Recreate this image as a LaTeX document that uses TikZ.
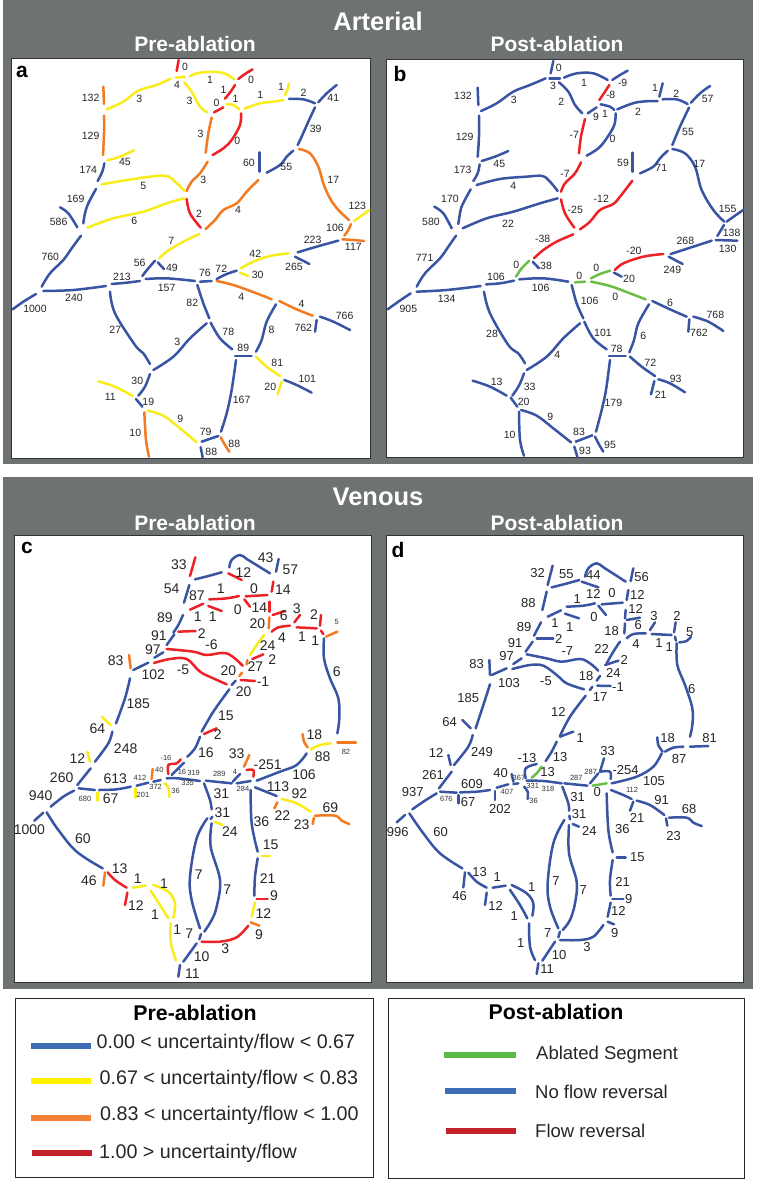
\documentclass[tikz,border=0pt]{standalone}
\usepackage{fontspec}
\setmainfont{Liberation Sans}
\definecolor{frameg}{HTML}{6E7273}
\definecolor{cB}{HTML}{3A54A4}
\definecolor{cY}{HTML}{F8EC1A}
\definecolor{cO}{HTML}{F47A22}
\definecolor{cR}{HTML}{EC2227}
\definecolor{cG}{HTML}{6ABD45}
\definecolor{lB}{HTML}{3F6DB5}
\definecolor{lY}{HTML}{FFF200}
\definecolor{lO}{HTML}{F58233}
\definecolor{lR}{HTML}{C4202A}
\definecolor{lG}{HTML}{5BBB47}
\newcounter{labn}
\newcommand\sg[2]{\draw[seg,#1] plot[smooth,tension=0.6] coordinates {#2};}
\newcommand\lb[2]{\stepcounter{labn}\node[lbl] (n\thelabn) at (#1) {#2};}
\newcommand\ls[2]{\stepcounter{labn}\node[lbs] (n\thelabn) at (#1) {#2};}
\tikzset{
 seg/.style={line width=2.5pt,line cap=round,line join=round},
 zz/.style 2 args={x=0.33333pt,y=-0.33333pt,shift={(#1pt,-#2pt)}},
 lbl/.style={font=\fontsize{10.5}{12}\selectfont,inner sep=0pt,text=black!85},
 lbs/.style={font=\fontsize{7.5}{8}\selectfont,inner sep=0pt,text=black!80},
 frameb/.style={fill=frameg,draw=none},
 panelb/.style={fill=white,draw=black!80,line width=0.8pt},
 ttl/.style={font=\bfseries\fontsize{25.5}{28}\selectfont,text=white,inner sep=0pt},
 subttl/.style={font=\bfseries\fontsize{21}{24}\selectfont,text=white,inner sep=0pt},
 letter/.style={font=\bfseries\fontsize{21}{24}\selectfont,inner sep=0pt},
 legbox/.style={fill=white,draw=black!85,line width=0.9pt},
 legt/.style={font=\bfseries\fontsize{21.3}{24}\selectfont,inner sep=0pt},
 legx/.style={font=\fontsize{19.7}{22}\selectfont,inner sep=0pt,anchor=west,text=black!85},
 legy/.style={font=\fontsize{18.5}{22}\selectfont,inner sep=0pt,anchor=west,text=black!85},
 legl/.style={line width=6pt},
}
\begin{document}
\begin{tikzpicture}[x=1pt,y=-1pt]
\useasboundingbox (0,0) rectangle (756,1181);
\fill[white] (0,0) rectangle (756,1181);
\path[frameb] (3,0) rectangle (753,464);
\path[frameb] (3,477) rectangle (753,989);
\path[panelb] (11.7,58) rectangle (370.7,458);
\path[panelb] (386.7,59) rectangle (743,457);
\path[panelb] (14,535) rectangle (371,982);
\path[panelb] (386,535) rectangle (743,982);
\node[ttl] (tA) at (378,21) {Arterial};
\node[subttl] (tA1) at (195,44) {Pre-ablation};
\node[subttl] (tA2) at (557,44) {Post-ablation};
\node[ttl] (tV) at (378,497) {Venous};
\node[subttl] (tV1) at (195,523) {Pre-ablation};
\node[subttl] (tV2) at (557,523) {Post-ablation};
\node[letter] (pa) at (22,72) {a};
\node[letter] (pb) at (400,74) {b};
\node[letter] (pc) at (27,548) {c};
\node[letter] (pd) at (398,550) {d};
% ---------- panel a top
\begin{scope}[zz={0}{50}]
\sg{cR}{(536,30)(530,63)}
\sg{cY}{(527,83)(555,81)}
\sg{cY}{(320,178)(370,155)(415,122)(470,105)(512,86)}
\sg{cY}{(570,78)(600,68)(650,66)(680,73)(702,88)}
\sg{cR}{(715,87)(735,72)(758,58)}
\sg{cR}{(675,146)(692,125)(705,105)}
\sg{cY}{(553,97)(575,125)(600,170)(622,187)}
\sg{cR}{(642,187)(670,172)}
\sg{cY}{(680,163)(700,165)(718,178)}
\sg{cY}{(733,176)(780,160)(820,155)(850,150)}
\sg{cY}{(855,135)(862,120)(867,100)}
\sg{cB}{(867,147)(910,148)(945,160)}
\sg{cB}{(955,157)(980,130)(1010,105)}
\sg{cB}{(945,172)(925,215)(905,260)(893,285)}
\sg{cO}{(897,297)(930,310)(955,350)(970,400)(990,445)(1015,480)(1047,510)}
\sg{cY}{(1062,513)(1085,497)(1108,480)}
\sg{cO}{(1053,522)(1045,540)(1033,557)}
\sg{cO}{(1027,568)(1060,570)(1092,573)}
\sg{cB}{(893,607)(950,590)(1015,572)}
\sg{cO}{(310,110)(312,162)}
\sg{cO}{(312,197)(312,250)(309,315)}
\sg{cY}{(322,331)(360,320)(402,301)}
\sg{cB}{(313,340)(307,365)(293,393)}
\sg{cY}{(305,403)(370,392)(450,380)(500,378)(525,395)(553,422)}
\sg{cO}{(623,335)(600,370)(575,395)(560,423)}
\sg{cO}{(635,203)(625,250)(617,308)}
\sg{cR}{(723,190)(720,225)(695,270)(670,295)(638,315)}
\sg{cB}{(778,307)(778,365)}
\sg{cB}{(800,368)(840,345)(860,320)(880,302)}
\sg{cO}{(775,390)(740,425)(710,460)(670,480)(645,510)(617,537)}
\sg{cR}{(560,447)(570,490)(602,533)}
\sg{cY}{(553,445)(500,460)(430,485)(340,505)(262,533)}
\sg{cB}{(288,417)(265,460)(255,490)(250,520)}
\sg{cB}{(180,472)(205,490)(232,532)}
\sg{cY}{(598,552)(550,575)(500,605)(478,625)}
\lb{555,52}{0}\lb{531,105}{4}\lb{630,90}{1}\lb{753,90}{0}\lb{671,120}{1}\lb{569,152}{3}
\lb{650,160}{0}\lb{707,147}{1}\lb{781,135}{1}\lb{843,112}{1}\lb{911,127}{2}\lb{1000,143}{41}
\lb{272,143}{132}\lb{418,148}{3}\lb{602,252}{3}\lb{712,272}{0}\lb{947,238}{39}\lb{272,258}{129}
\lb{375,336}{45}\lb{747,340}{60}\lb{859,352}{55}\lb{265,360}{174}\lb{610,390}{3}\lb{1000,390}{17}
\lb{430,407}{5}\lb{227,447}{169}\lb{714,481}{4}\lb{597,490}{2}\lb{1072,468}{123}\lb{176,516}{586}
\lb{403,514}{6}\lb{1005,533}{106}\lb{514,574}{7}\lb{938,570}{223}\lb{1060,592}{117}\lb{766,612}{42}
\end{scope}
% ---------- panel a bottom
\begin{scope}[zz={0}{250}]
\sg{cB}{(243,-43)(215,-5)(190,30)(150,70)(125,110)}
\sg{cY}{(722,55)(760,35)(810,18)(865,10)}
\sg{cB}{(885,20)(905,30)(928,42)}
\sg{cY}{(720,68)(745,78)}
\sg{cB}{(650,87)(680,72)(710,62)}
\sg{cB}{(465,32)(445,55)(427,78)}
\sg{cB}{(473,37)(492,57)}
\sg{cB}{(335,102)(380,98)(420,93)}
\sg{cB}{(437,87)(500,85)(585,93)}
\sg{cB}{(600,95)(635,93)}
\sg{cO}{(650,93)(700,105)(770,130)(815,148)}
\sg{cO}{(838,153)(890,178)(938,197)}
\sg{cB}{(960,200)(1000,215)(1050,240)}
\sg{cB}{(950,210)(945,245)}
\sg{cB}{(828,163)(800,215)(785,270)(768,305)}
\sg{cB}{(592,105)(610,160)(628,205)}
\sg{cB}{(620,220)(570,265)(520,320)(460,360)}
\sg{cB}{(632,218)(660,265)(697,298)}
\sg{cB}{(705,318)(755,318)}
\sg{cY}{(768,320)(800,350)(840,378)}
\sg{cY}{(845,395)(833,433)}
\sg{cB}{(853,390)(890,405)(935,428)}
\sg{cB}{(708,330)(695,420)(680,490)(663,545)}
\sg{cB}{(655,558)(605,575)}
\sg{cY}{(443,482)(490,497)(540,535)(590,577)}
\sg{cO}{(662,562)(675,585)(688,605)}
\sg{cB}{(602,592)(608,622)}
\sg{cO}{(433,487)(438,570)(447,620)}
\sg{cB}{(408,447)(427,470)}
\sg{cY}{(295,394)(345,410)(398,438)}
\sg{cB}{(450,372)(435,410)(415,437)}
\sg{cB}{(330,125)(345,190)(405,285)(430,310)(450,342)}
\sg{cB}{(130,123)(220,120)(318,108)}
\sg{cB}{(108,132)(70,155)(38,178)}
\lb{151,20}{760}\lb{419,40}{56}\lb{516,53}{49}\lb{366,80}{213}\lb{615,70}{76}\lb{664,55}{72}
\lb{773,75}{30}\lb{882,50}{265}\lb{500,115}{157}\lb{222,143}{240}\lb{724,140}{4}\lb{905,163}{4}
\lb{105,178}{1000}\lb{577,160}{82}\lb{1034,199}{766}\lb{910,233}{762}\lb{346,240}{27}\lb{685,245}{78}
\lb{815,240}{8}\lb{532,277}{3}\lb{730,293}{89}\lb{832,338}{81}\lb{412,393}{30}\lb{922,388}{101}
\lb{811,410}{20}\lb{331,440}{11}\lb{445,457}{19}\lb{725,451}{167}\lb{541,508}{9}\lb{617,547}{79}
\lb{406,550}{10}\lb{703,581}{88}\lb{634,605}{88}
\end{scope}
% ---------- panel b top
\begin{scope}[zz={380}{50}]
\sg{cB}{(520,33)(512,70)}
\sg{cB}{(508,85)(540,85)}
\sg{cB}{(303,183)(350,160)(400,125)(450,105)(497,85)}
\sg{cB}{(552,83)(590,70)(640,70)(683,90)}
\sg{cB}{(697,90)(720,75)(743,62)}
\sg{cR}{(658,150)(675,125)(688,105)}
\sg{cB}{(537,97)(565,125)(585,165)(607,190)}
\sg{cB}{(623,190)(650,172)}
\sg{cB}{(662,163)(690,170)(703,180)}
\sg{cB}{(712,178)(770,157)(833,153)}
\sg{cB}{(838,140)(848,100)}
\sg{cB}{(848,148)(890,148)(923,162)}
\sg{cB}{(933,158)(960,130)(990,108)}
\sg{cB}{(927,173)(900,230)(877,285)}
\sg{cB}{(877,297)(915,310)(945,350)(965,420)(1000,480)(1033,515)}
\sg{cB}{(1040,515)(1065,497)(1090,480)}
\sg{cB}{(1032,525)(1020,545)(1012,558)}
\sg{cB}{(1007,570)(1072,572)}
\sg{cB}{(872,612)(940,590)(995,572)}
\sg{cB}{(293,113)(295,165)}
\sg{cB}{(297,197)(297,260)(293,320)}
\sg{cB}{(305,333)(345,320)(385,303)}
\sg{cB}{(299,343)(293,370)(280,393)}
\sg{cB}{(290,405)(360,387)(440,380)(487,378)(510,395)(533,423)}
\sg{cR}{(603,337)(585,370)(555,400)(543,425)}
\sg{cR}{(615,207)(603,260)(597,310)}
\sg{cB}{(707,190)(703,225)(680,265)(655,295)(620,317)}
\sg{cB}{(758,308)(758,365)}
\sg{cB}{(780,370)(820,350)(840,325)(863,302)}
\sg{cR}{(757,392)(720,440)(700,462)(660,480)(630,515)(600,538)}
\sg{cR}{(543,448)(555,490)(583,533)}
\sg{cB}{(533,445)(480,460)(400,485)(320,505)(248,535)}
\sg{cB}{(272,418)(247,465)(240,490)(235,522)}
\sg{cB}{(163,470)(190,490)(215,535)}
\sg{cR}{(580,553)(530,575)(490,600)(462,625)}
\lb{536,55}{0}\lb{519,108}{3}\lb{612,98}{1}\lb{728,98}{-9}\lb{692,135}{-8}\lb{825,115}{1}
\lb{889,130}{2}\lb{983,147}{57}\lb{249,139}{132}\lb{401,150}{3}\lb{544,155}{2}\lb{648,200}{9}
\lb{675,193}{1}\lb{774,186}{2}\lb{583,254}{-7}\lb{698,267}{0}\lb{924,247}{55}\lb{254,260}{129}
\lb{358,343}{45}\lb{729,340}{59}\lb{844,354}{71}\lb{958,342}{17}\lb{248,361}{173}\lb{555,372}{-7}
\lb{400,408}{4}\lb{210,448}{170}\lb{664,445}{-12}\lb{586,481}{-25}\lb{1043,476}{155}\lb{153,517}{580}
\lb{384,522}{22}\lb{1055,548}{138}\lb{916,572}{268}\lb{1043,596}{130}\lb{488,568}{-38}\lb{762,603}{-20}
\end{scope}
% ---------- panel b bottom
\begin{scope}[zz={380}{250}]
\sg{cB}{(228,-43)(205,-10)(180,25)(135,70)(110,110)}
\sg{cR}{(705,60)(730,40)(790,20)(850,12)}
\sg{cB}{(866,20)(885,30)(908,42)}
\sg{cB}{(702,68)(725,80)}
\sg{cG}{(633,85)(660,72)(690,62)}
\sg{cG}{(448,32)(425,55)(408,80)}
\sg{cB}{(458,35)(477,55)}
\sg{cB}{(318,103)(360,100)(402,92)}
\sg{cB}{(418,88)(490,85)(565,95)}
\sg{cG}{(585,97)(615,95)}
\sg{cG}{(633,95)(690,108)(750,130)(797,148)}
\sg{cB}{(817,153)(870,178)(920,200)}
\sg{cB}{(940,200)(985,215)(1030,243)}
\sg{cB}{(928,208)(925,245)}
\sg{cB}{(807,163)(775,220)(762,270)(748,307)}
\sg{cB}{(575,105)(590,160)(610,205)}
\sg{cB}{(600,220)(550,265)(500,320)(440,360)}
\sg{cB}{(613,215)(640,265)(680,298)}
\sg{cB}{(687,318)(737,318)}
\sg{cB}{(750,320)(785,350)(825,378)}
\sg{cB}{(823,393)(813,433)}
\sg{cB}{(835,388)(870,400)(915,427)}
\sg{cB}{(690,330)(678,420)(665,480)(648,545)}
\sg{cB}{(637,556)(587,575)}
\sg{cB}{(423,480)(470,497)(520,535)(573,577)}
\sg{cB}{(645,560)(658,585)(670,605)}
\sg{cB}{(583,590)(592,620)}
\sg{cB}{(417,485)(420,570)(432,617)}
\sg{cB}{(392,443)(412,470)}
\sg{cB}{(278,392)(330,410)(380,437)}
\sg{cB}{(432,370)(418,405)(397,437)}
\sg{cB}{(312,125)(330,190)(385,285)(415,310)(435,340)}
\sg{cB}{(110,125)(200,120)(302,108)}
\sg{cB}{(92,130)(55,155)(23,178)}
\lb{134,25}{771}\lb{409,45}{0}\lb{498,47}{38}\lb{649,55}{0}\lb{348,80}{106}\lb{598,77}{0}
\lb{747,88}{20}\lb{877,60}{249}\lb{482,115}{106}\lb{200,148}{134}\lb{706,140}{0}\lb{870,160}{6}
\lb{85,178}{905}\lb{629,153}{106}\lb{1006,196}{768}\lb{957,250}{762}\lb{336,253}{28}\lb{669,250}{101}
\lb{790,259}{6}\lb{532,316}{4}\lb{710,297}{78}\lb{811,339}{72}\lb{887,387}{93}\lb{350,396}{13}
\lb{449,410}{33}\lb{842,435}{21}\lb{431,455}{20}\lb{511,501}{9}\lb{700,460}{179}\lb{597,545}{83}
\lb{389,554}{10}\lb{690,585}{95}\lb{615,603}{93}
\end{scope}
% ---------- panel c top
\begin{scope}[zz={0}{535},lbl/.append style={font=\fontsize{14}{16}\selectfont}]
\sg{cR}{(586,67)(570,123)}
\sg{cB}{(585,133)(625,123)(665,112)}
\sg{cB}{(688,97)(695,75)(720,60)(745,75)(810,115)}
\sg{cR}{(685,115)(725,135)}
\sg{cB}{(836,72)(828,110)}
\sg{cR}{(820,140)(815,170)}
\sg{cB}{(568,150)(552,203)}
\sg{cR}{(628,193)(680,190)(717,183)}
\sg{cR}{(737,184)(802,180)}
\sg{cR}{(733,193)(750,215)}
\sg{cR}{(570,224)(610,206)}
\sg{cR}{(625,213)(665,228)}
\sg{cR}{(808,200)(808,230)}
\sg{cO}{(808,247)(806,280)}
\sg{cR}{(818,240)(855,228)}
\sg{cR}{(815,290)(835,277)(870,272)}
\sg{cR}{(883,262)(900,240)}
\sg{cR}{(890,277)(950,280)}
\sg{cR}{(963,240)(960,272)}
\sg{cR}{(963,287)(970,297)}
\sg{cO}{(978,305)(1012,290)}
\sg{cB}{(972,310)(972,370)(990,430)(1015,490)(1018,550)(1012,595)}
\sg{cB}{(549,240)(535,270)(520,293)}
\sg{cR}{(535,290)(587,288)}
\sg{cB}{(523,298)(500,330)}
\sg{cR}{(500,342)(580,350)(620,360)(680,355)(728,392)}
\sg{cB}{(490,352)(463,368)}
\sg{cR}{(462,384)(510,372)(560,372)(600,410)(640,430)(680,448)}
\sg{cO}{(387,360)(392,400)}
\sg{cB}{(400,405)(445,383)}
\sg{cB}{(390,430)(375,490)(348,565)}
\sg{cY}{(750,360)(770,330)(792,300)}
\sg{cO}{(742,375)(740,388)}
\sg{cR}{(757,372)(790,358)}
\sg{cO}{(718,423)(726,413)}
\sg{cB}{(695,450)(707,437)}
\sg{cR}{(722,435)(765,438)}
\sg{cB}{(688,463)(640,530)(605,590)}
\sg{cR}{(612,597)(650,580)}
\sg{cY}{(305,545)(332,570)}
\sg{cO}{(908,597)(912,620)(923,637)}
\sg{cY}{(932,643)(960,630)(992,625)}
\sg{cO}{(1012,622)(1068,622)}
\lb{537,88}{33}\lb{797,68}{43}\lb{730,112}{12}\lb{871,103}{57}\lb{515,162}{54}\lb{591,181}{87}
\lb{662,160}{1}\lb{762,160}{0}\lb{849,165}{14}\lb{713,225}{0}\lb{778,218}{14}\lb{593,245}{1}
\lb{638,245}{1}\lb{495,248}{89}\lb{851,243}{6}\lb{890,220}{3}\lb{942,238}{2}\lb{772,266}{20}
\ls{1010,262}{5}\lb{605,295}{2}\lb{477,303}{91}\lb{846,309}{4}\lb{906,306}{1}\lb{946,317}{1}
\lb{803,331}{24}\lb{634,330}{-6}\lb{459,345}{97}\lb{817,373}{2}\lb{347,378}{83}\lb{766,396}{27}
\lb{460,420}{102}\lb{549,405}{-5}\lb{685,407}{20}\lb{1010,411}{6}\lb{789,441}{-1}\lb{731,471}{20}
\lb{415,507}{185}\lb{678,543}{15}\lb{292,581}{64}\lb{653,598}{2}\lb{943,598}{18}\lb{377,640}{248}
\lb{618,653}{16}\lb{710,655}{33}\lb{232,670}{12}\lb{968,664}{88}\ls{1038,652}{82}\ls{498,668}{-16}
\lb{803,688}{-251}
\end{scope}
% ---------- panel c bottom
\begin{scope}[zz={0}{750},lbl/.append style={font=\fontsize{14}{16}\selectfont}]
\sg{cB}{(920,10)(890,45)(840,65)(770,92)}
\sg{cO}{(748,15)(732,50)}
\sg{cY}{(262,5)(270,35)}
\sg{cB}{(337,-55)(325,-20)(285,35)}
\sg{cB}{(272,55)(232,105)}
\sg{cB}{(222,122)(190,140)(152,170)}
\sg{cB}{(130,188)(103,212)}
\sg{cB}{(140,187)(175,240)(230,305)(308,355)}
\sg{cB}{(236,115)(285,120)}
\sg{cY}{(292,128)(292,152)}
\sg{cB}{(297,120)(350,118)(392,110)}
\sg{cY}{(406,115)(406,143)}
\sg{cB}{(410,107)(445,98)}
\sg{cO}{(455,87)(458,57)}
\sg{cB}{(460,95)(482,90)}
\sg{cY}{(493,100)(505,112)(508,140)}
\sg{cB}{(500,85)(535,85)(600,93)}
\sg{cR}{(505,72)(505,45)(530,40)(542,28)}
\sg{cB}{(515,75)(535,55)(552,38)}
\sg{cB}{(600,-40)(585,-5)(562,20)}
\sg{cB}{(618,92)(695,100)}
\sg{cB}{(612,100)(630,150)(635,178)}
\sg{cB}{(637,200)(632,207)}
\sg{cB}{(622,205)(590,265)(570,380)(575,450)(600,535)}
\sg{cB}{(635,220)(632,290)(660,390)(650,470)(635,510)(613,545)}
\sg{cY}{(643,215)(668,225)}
\sg{cB}{(698,95)(720,72)}
\sg{cB}{(710,100)(752,93)}
\sg{cR}{(740,60)(760,60)(760,80)}
\sg{cB}{(765,112)(830,138)}
\sg{cB}{(752,120)(755,220)(773,305)}
\sg{cY}{(785,318)(810,318)}
\sg{cB}{(773,325)(765,380)(763,437)}
\sg{cR}{(770,447)(803,447)}
\sg{cY}{(765,458)(755,500)}
\sg{cO}{(752,517)(778,527)}
\sg{cR}{(745,527)(710,562)(660,575)(605,575)}
\sg{cO}{(832,157)(823,175)}
\sg{cY}{(845,147)(890,160)(932,185)}
\sg{cO}{(942,203)(938,222)}
\sg{cO}{(945,197)(1005,197)(1025,212)(1048,222)}
\sg{cB}{(603,552)(598,568)}
\sg{cB}{(590,580)(550,635)}
\sg{cB}{(540,645)(535,680)}
\sg{cY}{(512,520)(512,575)(528,632)}
\sg{cY}{(460,405)(505,425)(525,460)(520,503)}
\sg{cY}{(452,422)(480,465)(505,505)}
\sg{cY}{(398,413)(438,407)}
\sg{cR}{(323,367)(345,390)(380,413)}
\sg{cO}{(315,367)(310,407)}
\sg{cR}{(382,428)(375,465)}
\lb{185,83}{260}\lb{346,85}{613}\ls{420,83}{412}\ls{478,60}{40}\ls{546,65}{16}\ls{581,70}{319}
\ls{658,73}{289}\ls{705,65}{4}\ls{467,110}{372}\ls{563,100}{335}\lb{912,73}{106}\lb{834,110}{113}
\lb{898,132}{92}\lb{664,132}{31}\ls{729,117}{284}\ls{527,123}{36}\ls{429,134}{201}\ls{255,147}{680}
\lb{332,147}{67}\lb{122,137}{940}\lb{667,187}{31}\lb{847,197}{22}\lb{991,172}{69}\lb{905,224}{23}
\lb{784,215}{36}\lb{690,245}{24}\lb{88,240}{1000}\lb{249,267}{60}\lb{812,285}{15}\lb{803,385}{21}
\lb{596,375}{7}\lb{682,420}{7}\lb{359,355}{13}\lb{267,392}{46}\lb{413,387}{1}\lb{492,402}{1}
\lb{822,438}{9}\lb{408,467}{12}\lb{465,493}{1}\lb{790,492}{12}\lb{532,538}{1}\lb{568,550}{7}
\lb{777,553}{9}\lb{676,595}{3}\lb{605,620}{10}\lb{577,672}{11}
\end{scope}
% ---------- panel d top
\begin{scope}[zz={380}{535},lbl/.append style={font=\fontsize{13}{15}\selectfont}]
\sg{cB}{(518,92)(503,150)}
\sg{cB}{(515,157)(555,147)(598,135)}
\sg{cB}{(615,125)(625,100)(650,85)(675,100)(737,140)}
\sg{cB}{(605,140)(655,157)}
\sg{cB}{(760,100)(752,138)}
\sg{cB}{(745,165)(740,195)}
\sg{cB}{(560,215)(610,212)(645,205)}
\sg{cB}{(665,208)(728,203)}
\sg{cB}{(655,212)(678,240)}
\sg{cB}{(503,245)(543,226)}
\sg{cB}{(555,236)(597,250)}
\sg{cB}{(737,225)(735,250)}
\sg{cB}{(735,265)(733,295)}
\sg{cB}{(740,255)(780,248)}
\sg{cB}{(740,310)(760,297)(797,295)}
\sg{cB}{(810,285)(825,262)}
\sg{cB}{(815,297)(875,300)}
\sg{cB}{(887,262)(882,292)}
\sg{cB}{(885,305)(888,317)}
\sg{cB}{(898,322)(920,318)(933,305)}
\sg{cB}{(890,325)(892,390)(915,450)(937,520)(937,570)(930,605)}
\sg{cB}{(500,170)(487,225)}
\sg{cB}{(483,262)(462,302)}
\sg{cB}{(470,310)(520,310)}
\sg{cB}{(458,320)(437,350)}
\sg{cB}{(440,358)(500,370)(545,380)(600,372)(630,385)(655,407)}
\sg{cB}{(425,370)(400,387)}
\sg{cB}{(397,402)(450,390)(490,392)(530,420)(560,445)(612,463)}
\sg{cB}{(328,375)(330,420)}
\sg{cB}{(335,420)(380,400)}
\sg{cB}{(330,448)(310,510)(287,580)}
\sg{cB}{(247,555)(272,580)}
\sg{cB}{(278,600)(265,635)(222,690)}
\sg{cB}{(205,660)(212,690)}
\sg{cB}{(720,320)(700,350)(680,385)}
\sg{cB}{(675,390)(715,377)}
\sg{cB}{(660,423)(650,437)}
\sg{cB}{(652,452)(692,453)}
\sg{cB}{(630,465)(637,455)}
\sg{cB}{(617,482)(570,545)(540,603)}
\sg{cB}{(540,605)(580,590)}
\sg{cB}{(530,620)(515,650)(497,678)}
\sg{cB}{(832,607)(835,630)(848,650)}
\sg{cB}{(855,650)(880,638)(910,635)}
\sg{cB}{(930,635)(985,633)}
\lb{473,113}{32}\lb{559,117}{55}\lb{640,120}{44}\lb{785,127}{56}\lb{445,203}{88}\lb{592,192}{1}
\lb{640,178}{12}\lb{696,175}{0}\lb{772,180}{12}\lb{767,222}{12}\lb{642,245}{0}\lb{525,265}{1}
\lb{569,275}{1}\lb{822,242}{3}\lb{891,242}{2}\lb{775,270}{6}\lb{432,277}{89}\lb{695,287}{18}
\lb{929,292}{5}\lb{536,313}{2}\lb{405,325}{91}\lb{768,327}{4}\lb{837,323}{1}\lb{868,336}{1}
\lb{665,342}{22}\lb{562,347}{-7}\lb{380,362}{97}\lb{733,374}{2}\lb{290,387}{83}\lb{700,413}{24}
\lb{387,443}{103}\lb{498,438}{-5}\lb{618,423}{18}\lb{935,461}{6}\lb{714,457}{-1}\lb{660,487}{17}
\lb{265,488}{185}\lb{535,532}{12}\lb{209,560}{64}\lb{601,610}{1}\lb{863,610}{18}\lb{989,610}{81}
\lb{306,652}{249}\lb{683,648}{33}\lb{168,655}{12}\lb{540,665}{13}\lb{441,668}{-13}\lb{897,672}{87}
\end{scope}
% ---------- panel d bottom
\begin{scope}[zz={380}{750},lbl/.append style={font=\fontsize{13}{15}\selectfont}]
\sg{cB}{(672,25)(660,65)}
\sg{cB}{(845,10)(820,50)(770,80)(695,100)}
\sg{cB}{(215,65)(177,115)}
\sg{cB}{(170,130)(130,155)(97,178)}
\sg{cB}{(75,195)(50,217)}
\sg{cB}{(88,190)(130,250)(180,310)(247,355)}
\sg{cB}{(180,125)(230,128)}
\sg{cB}{(235,135)(235,160)}
\sg{cB}{(240,127)(290,125)(330,120)}
\sg{cB}{(345,123)(345,150)}
\sg{cB}{(350,113)(385,103)}
\sg{cB}{(395,72)(400,95)}
\sg{cB}{(400,102)(415,100)}
\sg{cB}{(432,110)(443,125)(443,147)}
\sg{cB}{(440,92)(490,93)(545,100)}
\sg{cB}{(437,85)(437,55)(470,42)}
\sg{cG}{(455,83)(470,70)(485,50)}
\sg{cB}{(553,100)(622,107)}
\sg{cB}{(547,110)(565,160)(567,182)}
\sg{cB}{(568,197)(570,208)}
\sg{cB}{(553,210)(520,280)(503,400)(510,470)(535,535)}
\sg{cB}{(567,225)(567,310)(590,395)(585,460)(570,510)(548,540)}
\sg{cB}{(578,222)(597,230)}
\sg{cB}{(630,100)(655,70)}
\sg{cG}{(638,107)(680,100)}
\sg{cB}{(660,65)(690,65)(692,87)}
\sg{cB}{(693,120)(730,135)(755,147)}
\sg{cB}{(680,130)(685,240)(698,307)}
\sg{cB}{(710,322)(737,322)}
\sg{cB}{(698,330)(690,390)(692,437)}
\sg{cB}{(697,447)(730,447)}
\sg{cB}{(692,458)(683,500)}
\sg{cB}{(683,515)(702,523)}
\sg{cB}{(670,525)(640,560)(600,570)(540,570)}
\sg{cB}{(760,155)(750,182)}
\sg{cB}{(770,152)(810,165)(853,195)}
\sg{cB}{(858,205)(862,227)}
\sg{cB}{(867,203)(920,203)(940,218)(965,228)}
\sg{cB}{(540,545)(535,562)}
\sg{cB}{(525,575)(487,632)}
\sg{cB}{(475,640)(470,672)}
\sg{cB}{(447,520)(450,590)(465,630)}
\sg{cB}{(395,405)(440,430)(460,460)(457,497)}
\sg{cB}{(390,420)(420,465)(442,505)}
\sg{cB}{(338,413)(377,407)}
\sg{cB}{(265,368)(290,395)(320,413)}
\sg{cB}{(255,367)(250,412)}
\sg{cB}{(320,428)(315,465)}
\lb{159,75}{261}\lb{362,70}{40}\lb{276,103}{609}\ls{417,85}{367}\lb{503,67}{13}\ls{589,83}{287}
\ls{632,65}{287}\lb{737,60}{-254}\lb{822,92}{105}\lb{98,127}{937}\ls{458,108}{331}\ls{504,116}{318}
\ls{381,126}{407}\ls{756,120}{112}\lb{593,141}{31}\lb{652,126}{0}\lb{845,150}{91}\ls{199,146}{676}
\lb{264,155}{67}\ls{461,152}{36}\lb{360,176}{202}\lb{597,193}{31}\lb{927,178}{68}\lb{771,203}{21}
\lb{628,242}{24}\lb{727,237}{36}\lb{53,245}{996}\lb{182,245}{60}\lb{881,257}{23}\lb{772,322}{15}
\lb{299,365}{13}\lb{352,380}{1}\lb{528,394}{7}\lb{728,396}{21}\lb{455,411}{1}\lb{610,421}{7}
\lb{239,437}{46}\lb{746,448}{9}\lb{347,467}{12}\lb{715,483}{12}\lb{403,498}{1}\lb{503,548}{7}
\lb{704,549}{9}\lb{422,580}{1}\lb{621,592}{3}\lb{537,615}{10}\lb{501,657}{11}
\end{scope}
% ---------- legends
\path[legbox] (15.5,998) rectangle (373,1177);
\path[legbox] (388,998) rectangle (744,1178);
\node[legt] (lg1) at (195,1013) {Pre-ablation};
\node[legt] (lg2) at (556,1012) {Post-ablation};
\draw[legl,lB] (31,1046) -- (91,1046);
\draw[legl,lY] (31,1081) -- (91,1081);
\draw[legl,lO] (31,1118) -- (91,1118);
\draw[legl,lR] (32,1153) -- (92,1153);
\node[legx] (x1) at (96.5,1043) {0.00 < uncertainty/flow < 0.67};
\node[legx] (x2) at (99.5,1079) {0.67 < uncertainty/flow < 0.83};
\node[legx] (x3) at (100,1115) {0.83 < uncertainty/flow < 1.00};
\node[legx] (x4) at (99,1153) {1.00 > uncertainty/flow};
\draw[legl,lG] (443.5,1055) -- (515.5,1055);
\draw[legl,lB] (445,1091) -- (515.5,1091);
\draw[legl,lR] (446,1131) -- (515.5,1131);
\node[legy] (y1) at (536,1055) {Ablated Segment};
\node[legy] (y2) at (535,1092) {No flow reversal};
\node[legy] (y3) at (535,1131) {Flow reversal};
\end{tikzpicture}
\end{document}
